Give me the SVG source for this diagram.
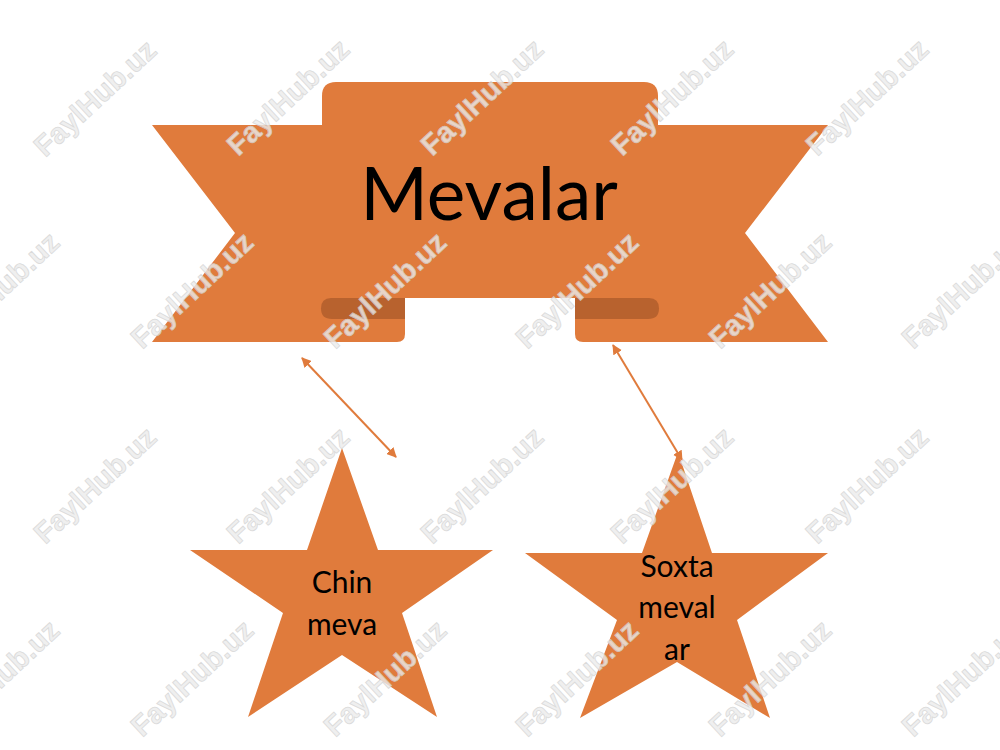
<svg xmlns="http://www.w3.org/2000/svg" width="1000" height="750" viewBox="0 0 1000 750">
<defs>
<style>
.or{fill:#E07B3C}
.fold{fill:#B8622E}
.lbl{font-family:Lato,"Liberation Sans",sans-serif;fill:#000;text-anchor:middle}
.con{stroke:#E07B3C;stroke-width:2;fill:none}
.wm{font-family:"Liberation Sans",Arial,sans-serif;font-weight:bold;font-size:29px;fill:#ececec;stroke:#d2d2d2;stroke-width:0.8;text-anchor:middle;opacity:0.8}
</style>
<marker id="ah" viewBox="0 0 10 10" refX="9" refY="5" markerWidth="5" markerHeight="5" orient="auto-start-reverse" markerUnits="strokeWidth">
<path d="M0,0 L10,5 L0,10 Z" fill="#E07B3C"/>
</marker>
</defs>
<rect width="1000" height="750" fill="#fff"/>

<g id="banner">
<path class="or" d="M152,125 L340,125 L340,298 L405,298 L405,334 Q405,342 397,342 L152,342 L235,233 Z"/>
<path class="or" d="M828,125 L640,125 L640,298 L575,298 L575,334 Q575,342 583,342 L828,342 L745,233 Z"/>
<path class="fold" d="M405,298 L331,298 Q321,298 321,308.5 Q321,319 332,319 L405,319 Z"/>
<path class="fold" d="M575,298 L649,298 Q659,298 659,308.5 Q659,319 648,319 L575,319 Z"/>
<path class="or" d="M322,96 Q322,82 336,82 L644,82 Q658,82 658,96 L658,298 L322,298 Z"/>
<text class="lbl" x="489" y="220" font-size="73">Mevalar</text>
</g>

<g id="connectors">
<line class="con" x1="302" y1="358" x2="396" y2="457" marker-start="url(#ah)" marker-end="url(#ah)"/>
<line class="con" x1="613" y1="345" x2="682" y2="460" marker-start="url(#ah)" marker-end="url(#ah)"/>
</g>

<g id="star-chin">
<polygon class="or" points="342,448 378,550 493,550 402,613 437,717 342,655 248,717 283,613 190,550 307,550"/>
<text class="lbl" x="342" y="593" font-size="30">Chin</text>
<text class="lbl" x="342" y="635" font-size="30">meva</text>
</g>

<g id="star-soxta">
<polygon class="or" points="678,452 712,553 828,553 737,620 770,718 677,662 580,718 617,620 525,553 642,553"/>
<text class="lbl" x="677" y="577" font-size="30">Soxta</text>
<text class="lbl" x="677" y="618" font-size="30">meval</text>
<text class="lbl" x="677" y="660" font-size="30">ar</text>
</g>

<g id="watermarks">
<text class="wm" transform="translate(95,98) rotate(-43)" y="10">FaylHub.uz</text>
<text class="wm" transform="translate(288,97) rotate(-43)" y="10">FaylHub.uz</text>
<text class="wm" transform="translate(482,97) rotate(-43)" y="10">FaylHub.uz</text>
<text class="wm" transform="translate(672,97) rotate(-43)" y="10">FaylHub.uz</text>
<text class="wm" transform="translate(867,97) rotate(-43)" y="10">FaylHub.uz</text>
<text class="wm" transform="translate(-2,290) rotate(-43)" y="10">FaylHub.uz</text>
<text class="wm" transform="translate(192,290) rotate(-43)" y="10">FaylHub.uz</text>
<text class="wm" transform="translate(385,290) rotate(-43)" y="10">FaylHub.uz</text>
<text class="wm" transform="translate(577,290) rotate(-43)" y="10">FaylHub.uz</text>
<text class="wm" transform="translate(770,290) rotate(-43)" y="10">FaylHub.uz</text>
<text class="wm" transform="translate(963,290) rotate(-43)" y="10">FaylHub.uz</text>
<text class="wm" transform="translate(95,485) rotate(-43)" y="10">FaylHub.uz</text>
<text class="wm" transform="translate(288,485) rotate(-43)" y="10">FaylHub.uz</text>
<text class="wm" transform="translate(482,485) rotate(-43)" y="10">FaylHub.uz</text>
<text class="wm" transform="translate(672,485) rotate(-43)" y="10">FaylHub.uz</text>
<text class="wm" transform="translate(867,485) rotate(-43)" y="10">FaylHub.uz</text>
<text class="wm" transform="translate(-2,678) rotate(-43)" y="10">FaylHub.uz</text>
<text class="wm" transform="translate(192,678) rotate(-43)" y="10">FaylHub.uz</text>
<text class="wm" transform="translate(385,678) rotate(-43)" y="10">FaylHub.uz</text>
<text class="wm" transform="translate(577,678) rotate(-43)" y="10">FaylHub.uz</text>
<text class="wm" transform="translate(770,678) rotate(-43)" y="10">FaylHub.uz</text>
<text class="wm" transform="translate(963,678) rotate(-43)" y="10">FaylHub.uz</text>
</g>
</svg>
